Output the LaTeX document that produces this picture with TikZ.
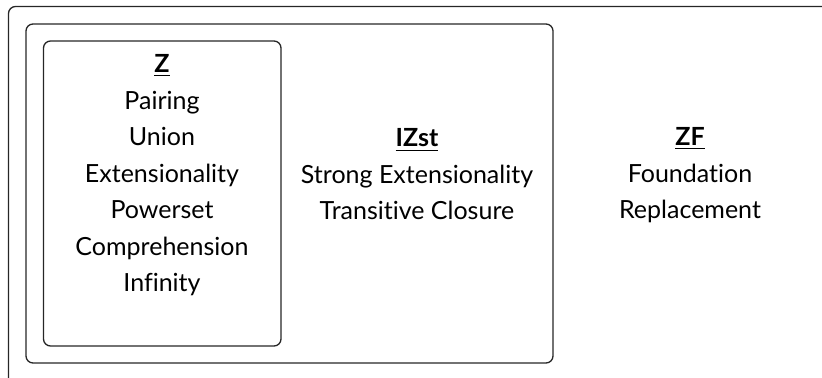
\documentclass[tikz,border=0pt]{standalone}
\usepackage{fontspec}
\setmainfont{Lato}[Ligatures=NoCommon]
\begin{document}
\begin{tikzpicture}[x=0.5pt,y=-0.5pt,
  box/.style={draw=black!85, line width=0.65pt, rounded corners=3.5pt},
  txt/.style={align=center, anchor=base, inner sep=0pt, font=\fontsize{12.5}{18.25}\selectfont}]
\useasboundingbox (0,0) rectangle (822,378);
\begin{scope}
\clip (0,0) rectangle (822,378);
\draw[box] (8.5,6.5) rectangle (840,392);
\end{scope}
\draw[box] (26,24) rectangle (553,363);
\draw[box] (43.5,41) rectangle (281,346);
\node[txt] (z) at (162,292) {\underline{\textbf{Z}}\\Pairing\\Union\\Extensionality\\Powerset\\Comprehension\\Infinity};
\node[txt] (izst) at (417,220) {\underline{\textbf{IZst}}\\Strong Extensionality\\Transitive Closure};
\node[txt] (zf) at (690,219) {\underline{\textbf{ZF}}\\Foundation\\Replacement};
\end{tikzpicture}
\end{document}
